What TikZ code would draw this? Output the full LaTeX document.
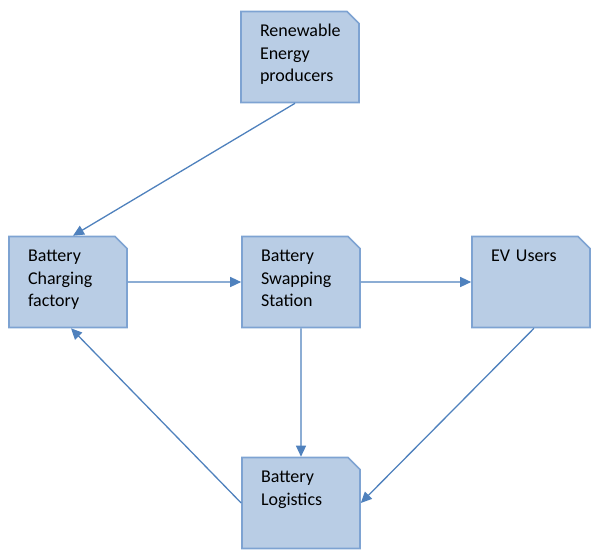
\documentclass[tikz,border=0pt]{standalone}
\usepackage{fontspec}
\setmainfont{Carlito}
\usetikzlibrary{arrows.meta, shapes.misc}

\definecolor{boxfill}{RGB}{185,205,229}
\definecolor{boxline}{RGB}{126,163,210}
\definecolor{linkblue}{RGB}{79,129,189}

\tikzset{
    block/.style={chamfered rectangle, chamfered rectangle corners=north east,
        chamfered rectangle xsep=6pt, chamfered rectangle ysep=6pt,
        draw=boxline, fill=boxfill, line width=1.6pt,
        text width=80pt, align=left, inner xsep=13pt, inner ysep=0pt,
        text height=19pt, text depth=60pt,
        font=\fontsize{18}{22.5}\selectfont},
    link/.style={draw=linkblue, line width=1.3pt, -{Triangle[length=11pt,width=10pt]}}
}

\begin{document}
\begin{tikzpicture}[x=1pt, y=-1pt]
        \useasboundingbox (0,0) rectangle (592,552);

        \coordinate (P1) at (300,57);
        \coordinate (P2) at (68,282);
        \coordinate (P3) at (301,282);
        \coordinate (P4) at (531,282);
        \coordinate (P5) at (301,503);

        \node[block] (ren) at (P1) {Renewable\\Energy\\producers};
        \node[block] (chg) at (P2) {Battery\\Charging\\factory};
        \node[block] (swp) at (P3) {Battery\\Swapping\\Station};
        \node[block] (ev)  at (P4) {EV Users};
        \node[block] (log) at (P5) {Battery\\Logistics};

        \draw[link] ([xshift=-5pt]ren.south) -- ([xshift=5pt]chg.north);
        \draw[link] (chg) -- (swp);
        \draw[link] (swp) -- (ev);
        \draw[link] (swp) -- (log);
        \draw[link] (log.west) -- ([xshift=3pt]chg.south);
        \draw[link] ([xshift=3pt]ev.south) -- (log.east);
    \end{tikzpicture}
\end{document}
